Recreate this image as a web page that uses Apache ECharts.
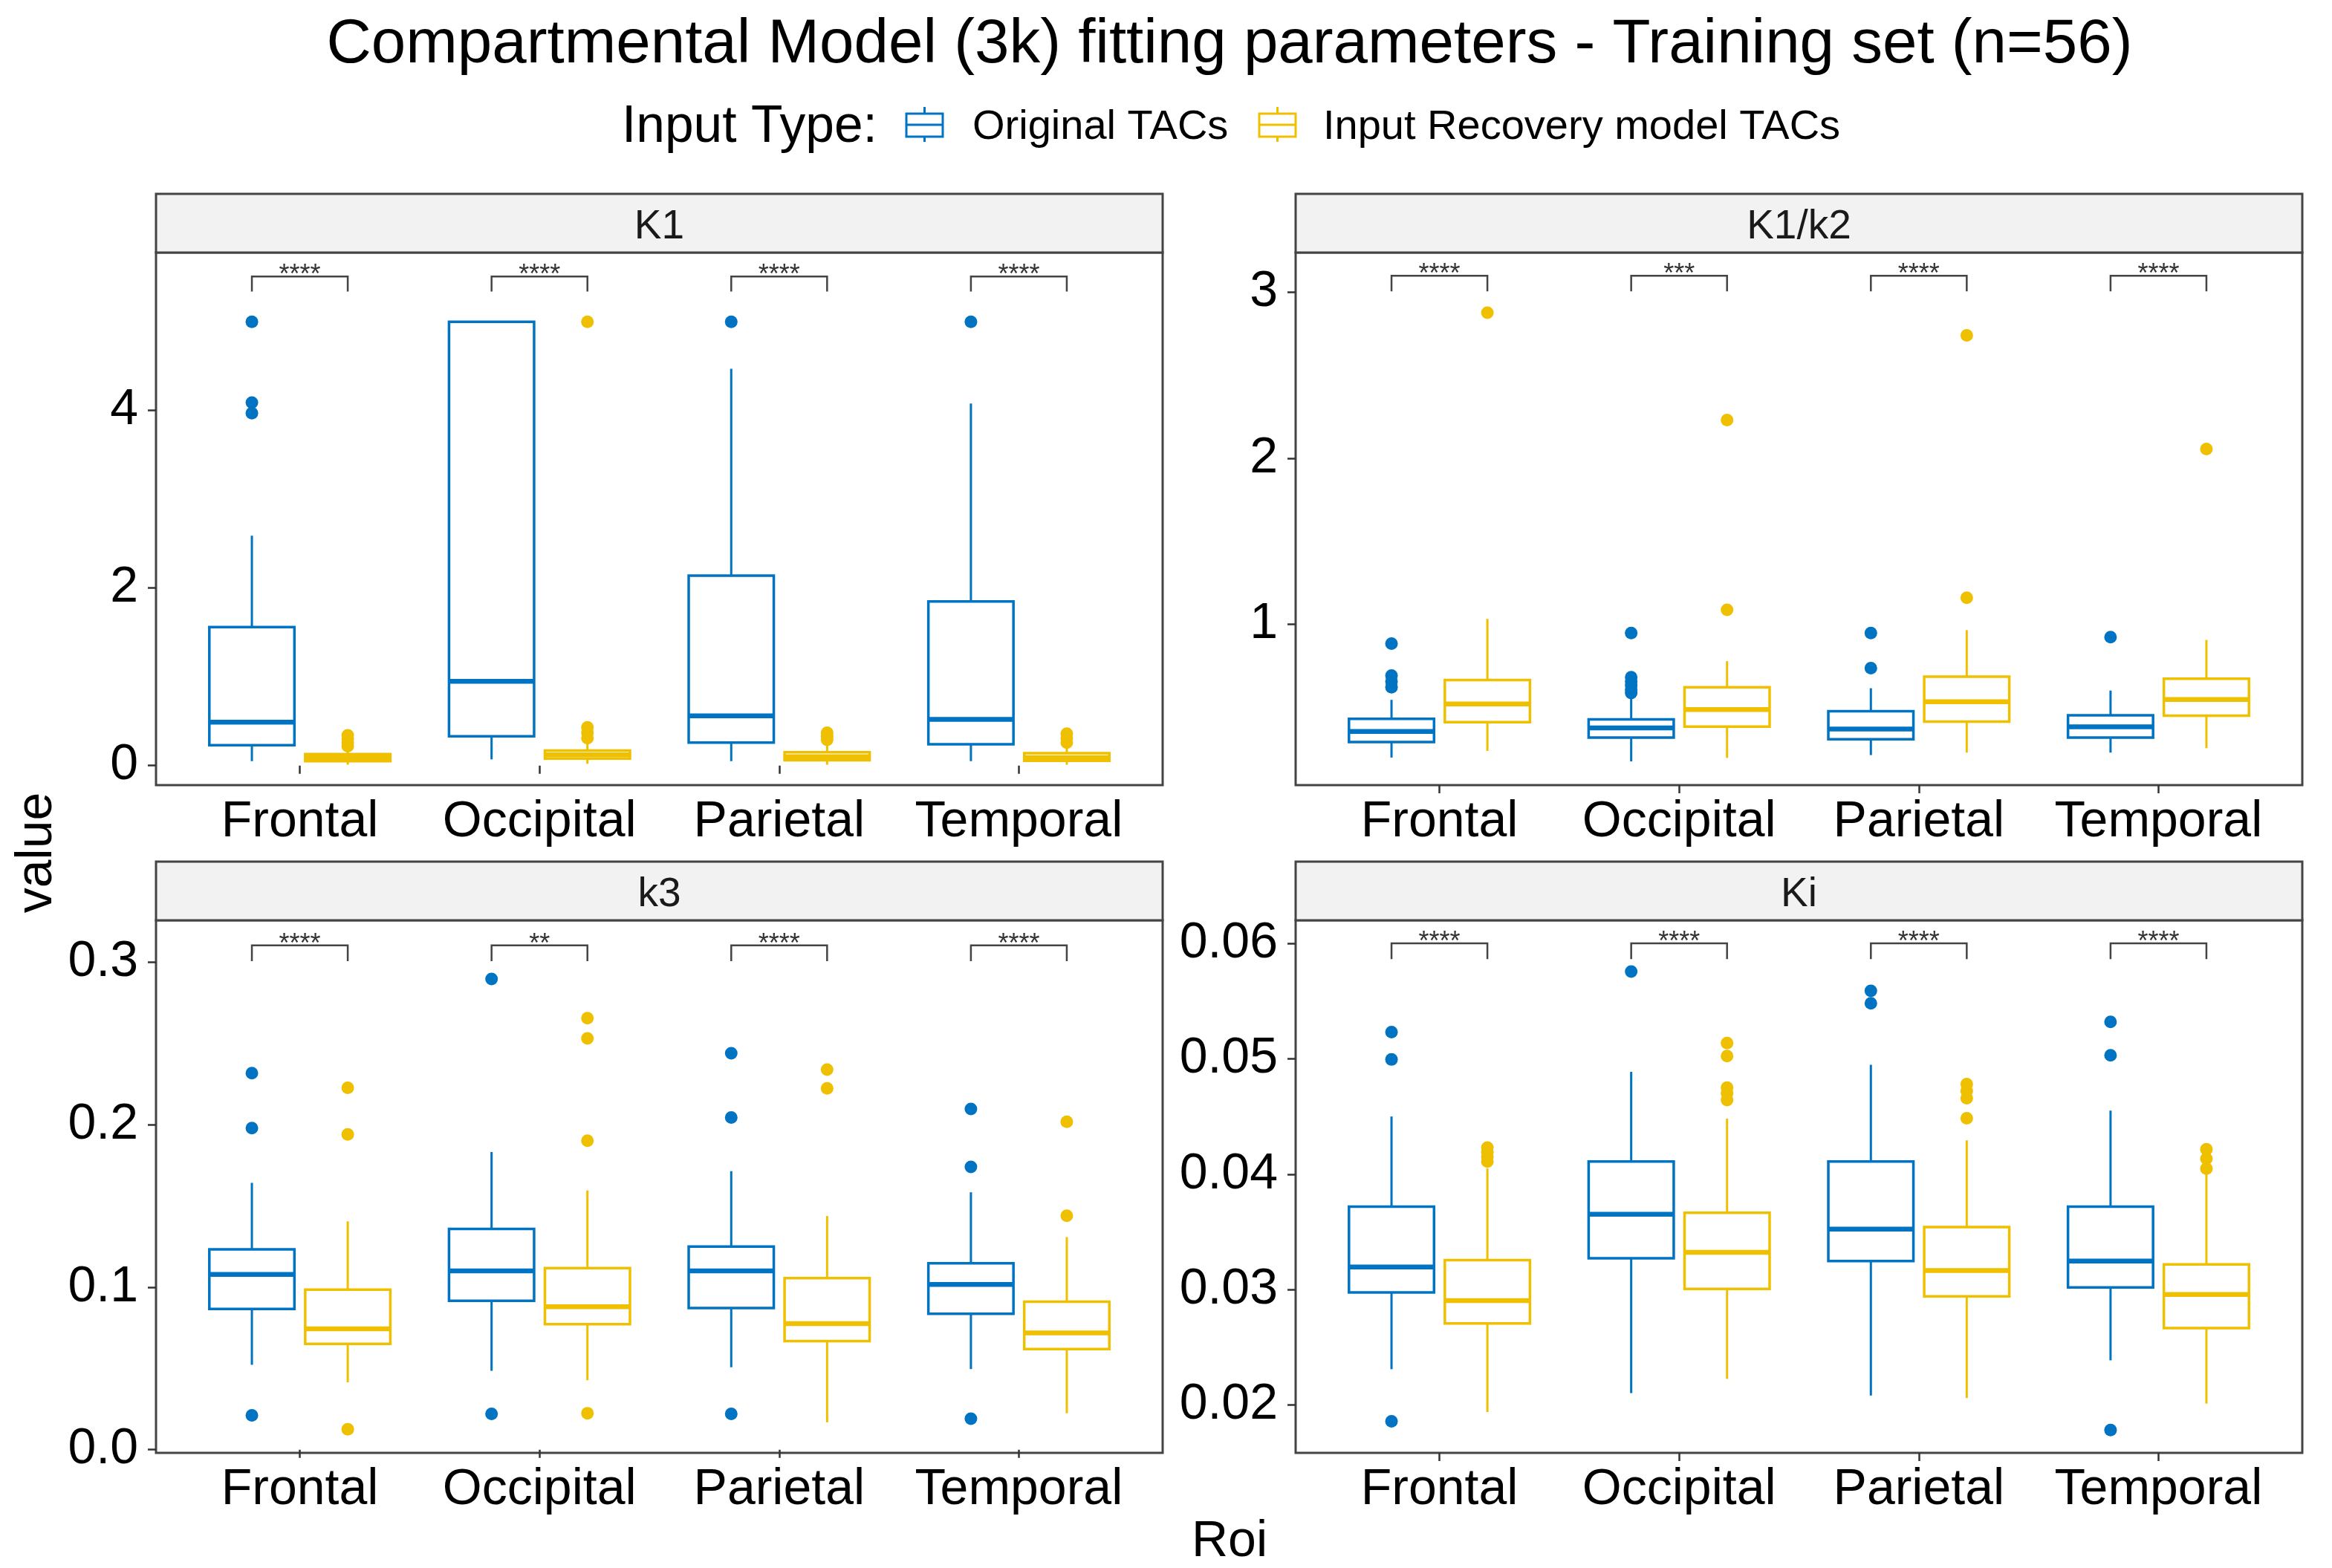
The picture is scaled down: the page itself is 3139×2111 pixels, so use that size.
<!DOCTYPE html>
<html>
<head>
<meta charset="utf-8">
<script src="https://cdn.jsdelivr.net/npm/echarts@6.0.0/dist/echarts.min.js"></script>
<style>
  html, body { margin: 0; padding: 0; background: #fff; }
  #chart { width: 3139px; height: 2111px; }
</style>
</head>
<body>
<div id="chart"></div>
<script>
const rois = ['Frontal', 'Occipital', 'Parietal', 'Temporal']
const inputTypes = ['Original TACs', 'Input Recovery model TACs']

// box stats per roi: [min, Q1, median, Q3, max]
const k1Original = [[0.05, 0.23, 0.49, 1.56, 2.59], [0.07, 0.33, 0.95, 5.0, 5.0], [0.05, 0.26, 0.56, 2.14, 4.47], [0.05, 0.24, 0.52, 1.85, 4.08]]
const k1Recovery = [[0.01, 0.05, 0.09, 0.13, 0.20], [0.02, 0.08, 0.12, 0.17, 0.25], [0.01, 0.06, 0.10, 0.15, 0.23], [0.01, 0.055, 0.09, 0.14, 0.21]]
const k1OriginalOutliers = [[5.0, 4.09, 3.97], [], [5.0], [5.0]]
const k1RecoveryOutliers = [[0.34, 0.30, 0.26, 0.22], [5.0, 0.43, 0.37, 0.31], [0.37, 0.33, 0.29], [0.36, 0.31, 0.26]]
const k1Signif = ['****', '****', '****', '****']
const k1Bracket = [5.34, 5.51]

const k1k2Original = [[0.196, 0.29, 0.353, 0.43, 0.544], [0.173, 0.317, 0.375, 0.426, 0.56], [0.211, 0.307, 0.368, 0.476, 0.614], [0.226, 0.317, 0.381, 0.451, 0.60]]
const k1k2Recovery = [[0.236, 0.409, 0.519, 0.663, 1.032], [0.194, 0.383, 0.485, 0.62, 0.777], [0.226, 0.413, 0.532, 0.684, 0.964], [0.253, 0.449, 0.546, 0.671, 0.905]]
const k1k2OriginalOutliers = [[0.883, 0.69, 0.655, 0.62], [0.947, 0.68, 0.655, 0.63, 0.605, 0.585], [0.947, 0.735], [0.922]]
const k1k2RecoveryOutliers = [[2.877], [2.23, 1.087], [2.741, 1.159], [2.056]]
const k1k2Signif = ['****', '***', '****', '****']
const k1k2Bracket = [3.006, 3.10]

const k3Original = [[0.0522, 0.0866, 0.1078, 0.1233, 0.1642], [0.0485, 0.0916, 0.110, 0.1358, 0.1832], [0.0507, 0.0871, 0.110, 0.125, 0.1714], [0.0496, 0.0836, 0.1017, 0.1147, 0.1584]]
const k3Recovery = [[0.0414, 0.0651, 0.0744, 0.0985, 0.1405], [0.0427, 0.0772, 0.088, 0.1117, 0.1595], [0.0168, 0.0668, 0.0776, 0.1056, 0.1438], [0.0224, 0.0619, 0.0718, 0.091, 0.1308]]
const k3OriginalOutliers = [[0.2317, 0.1979, 0.0211], [0.2897, 0.022], [0.244, 0.2044, 0.022], [0.2097, 0.174, 0.019]]
const k3RecoveryOutliers = [[0.2227, 0.194, 0.0125], [0.2656, 0.2531, 0.1901, 0.0224], [0.2339, 0.2224], [0.2018, 0.144]]
const k3Signif = ['****', '**', '****', '****']
const k3Bracket = [0.3007, 0.3104]

const kiOriginal = [[0.0231, 0.02976, 0.03195, 0.03719, 0.045], [0.02103, 0.03271, 0.03652, 0.0411, 0.04887], [0.02082, 0.03247, 0.03524, 0.0411, 0.04948], [0.02387, 0.03018, 0.03247, 0.03719, 0.04551]]
const kiRecovery = [[0.01939, 0.02707, 0.02905, 0.03256, 0.0405], [0.02226, 0.03006, 0.03323, 0.03665, 0.04481], [0.0206, 0.02942, 0.03165, 0.03542, 0.04293], [0.02012, 0.02667, 0.02957, 0.03219, 0.04033]]
const kiOriginalOutliers = [[0.05231, 0.04994, 0.01859], [0.05756], [0.05588, 0.05481], [0.0532, 0.0503, 0.01783]]
const kiRecoveryOutliers = [[0.04231, 0.0419, 0.0415, 0.0411], [0.05137, 0.05024, 0.0475, 0.047, 0.04643], [0.0478, 0.0472, 0.04658, 0.04485], [0.04216, 0.04134, 0.04048]]
const kiSignif = ['****', '****', '****', '****']
const kiBracket = [0.05863, 0.06]

// y tick labels
const k1Ticks = [0, 2, 4]
const k1k2Ticks = [1, 2, 3]
const k3Ticks = [0, 0.1, 0.2, 0.3]
const kiTicks = [0.02, 0.03, 0.04, 0.05, 0.06]

const FONT = 'Liberation Sans, Arial, Helvetica, sans-serif'
const COLORS = ['#0073C2', '#EFC000']
const DODGE = [-0.2, 0.2]
const BOX_WIDTH = 0.355
const PANEL_W = 1355
const PANEL_H = 717
const STRIP_H = 79

const panels = [
  { name: 'K1', boxes: [k1Original, k1Recovery], outliers: [k1OriginalOutliers, k1RecoveryOutliers], signif: k1Signif, bracket: k1Bracket, ticks: k1Ticks, digits: 0, min: -0.22, max: 5.78, left: 210, top: 340 },
  { name: 'K1/k2', boxes: [k1k2Original, k1k2Recovery], outliers: [k1k2OriginalOutliers, k1k2RecoveryOutliers], signif: k1k2Signif, bracket: k1k2Bracket, ticks: k1k2Ticks, digits: 0, min: 0.03, max: 3.24, left: 1744, top: 340 },
  { name: 'k3', boxes: [k3Original, k3Recovery], outliers: [k3OriginalOutliers, k3RecoveryOutliers], signif: k3Signif, bracket: k3Bracket, ticks: k3Ticks, digits: 1, min: -0.002, max: 0.3258, left: 210, top: 1239 },
  { name: 'Ki', boxes: [kiOriginal, kiRecovery], outliers: [kiOriginalOutliers, kiRecoveryOutliers], signif: kiSignif, bracket: kiBracket, ticks: kiTicks, digits: 2, min: 0.01585, max: 0.062, left: 1744, top: 1239 }
]

function renderBox(params, api) {
  const x = api.value(0)
  const half = api.size([BOX_WIDTH, 0])[0] / 2
  const pMin = api.coord([x, api.value(1)])
  const pQ1 = api.coord([x, api.value(2)])
  const pMed = api.coord([x, api.value(3)])
  const pQ3 = api.coord([x, api.value(4)])
  const pMax = api.coord([x, api.value(5)])
  const color = api.visual('color')
  return {
    type: 'group',
    children: [
      { type: 'line', shape: { x1: pMin[0], y1: pMin[1], x2: pQ1[0], y2: pQ1[1] }, style: { stroke: color, lineWidth: 3 } },
      { type: 'line', shape: { x1: pQ3[0], y1: pQ3[1], x2: pMax[0], y2: pMax[1] }, style: { stroke: color, lineWidth: 3 } },
      { type: 'rect', shape: { x: pQ1[0] - half, y: pQ3[1], width: half * 2, height: pQ1[1] - pQ3[1] }, style: { fill: '#fff', stroke: color, lineWidth: 3.5 } },
      { type: 'line', shape: { x1: pMed[0] - half, y1: pMed[1], x2: pMed[0] + half, y2: pMed[1] }, style: { stroke: color, lineWidth: 6.5 } }
    ]
  }
}

function bracketRenderer(labels) {
  return function (params, api) {
    const x = api.value(0)
    const a = api.coord([x + DODGE[0], api.value(1)])
    const b = api.coord([x + DODGE[0], api.value(2)])
    const c = api.coord([x + DODGE[1], api.value(2)])
    const d = api.coord([x + DODGE[1], api.value(1)])
    return {
      type: 'group',
      children: [
        { type: 'polyline', shape: { points: [a, b, c, d] }, style: { stroke: '#444', lineWidth: 2.5, fill: 'none' } },
        { type: 'text', style: { text: labels[params.dataIndex], x: (b[0] + c[0]) / 2, y: b[1] - 1, align: 'center', verticalAlign: 'middle', fontSize: 36, fontFamily: FONT, fill: '#333' } }
      ]
    }
  }
}

const grid = []
const xAxis = []
const yAxis = []
const series = []
const graphic = []

panels.forEach((p, i) => {
  grid.push({ left: p.left, top: p.top, width: PANEL_W, height: PANEL_H, show: true, borderColor: '#444', borderWidth: 3, backgroundColor: '#fff' })

  xAxis.push({
    type: 'value', gridIndex: i, min: 0.4, max: 4.6,
    axisLine: { show: false },
    splitLine: { show: false },
    axisTick: { show: true, customValues: [1, 2, 3, 4], length: 11, lineStyle: { color: '#333', width: 2.5 } },
    axisLabel: { customValues: [1, 2, 3, 4], formatter: v => rois[Math.round(v) - 1], margin: 16, fontSize: 68, color: '#000', fontFamily: FONT }
  })

  yAxis.push({
    type: 'value', gridIndex: i, min: p.min, max: p.max,
    axisLine: { show: false },
    splitLine: { show: false },
    axisTick: { show: true, customValues: p.ticks, length: 11, lineStyle: { color: '#333', width: 2.5 } },
    axisLabel: { customValues: p.ticks, formatter: v => v.toFixed(p.digits), margin: 24, padding: [16, 0, 0, 0], fontSize: 68, color: '#000', fontFamily: FONT }
  })

  p.boxes.forEach((stats, g) => {
    series.push({
      type: 'custom', name: inputTypes[g], xAxisIndex: i, yAxisIndex: i,
      itemStyle: { color: COLORS[g] },
      renderItem: renderBox,
      encode: { x: 0, y: [1, 2, 3, 4, 5] },
      data: stats.map((s, r) => [r + 1 + DODGE[g]].concat(s))
    })
    series.push({
      type: 'scatter', xAxisIndex: i, yAxisIndex: i, symbolSize: 17,
      itemStyle: { color: COLORS[g], opacity: 1 },
      data: p.outliers[g].flatMap((vals, r) => vals.map(v => [r + 1 + DODGE[g], v]))
    })
  })

  series.push({
    type: 'custom', xAxisIndex: i, yAxisIndex: i,
    renderItem: bracketRenderer(p.signif),
    encode: { x: 0, y: [1, 2] },
    data: rois.map((_, r) => [r + 1, p.bracket[0], p.bracket[1]])
  })

  graphic.push({ type: 'rect', shape: { x: p.left, y: p.top - STRIP_H, width: PANEL_W, height: STRIP_H }, style: { fill: '#F2F2F2', stroke: '#444', lineWidth: 3 } })
  graphic.push({ type: 'text', x: p.left + PANEL_W / 2, y: p.top - STRIP_H / 2 + 5, style: { text: p.name, align: 'center', verticalAlign: 'middle', fontSize: 55, fontFamily: FONT, fill: '#1a1a1a' } })
})

// title, axis titles
graphic.push({ type: 'text', x: 1655, y: 61, style: { text: 'Compartmental Model (3k) fitting parameters - Training set (n=56)', align: 'center', verticalAlign: 'middle', fontSize: 83.5, fontFamily: FONT, fill: '#000' } })
graphic.push({ type: 'text', x: 1655, y: 2076, style: { text: 'Roi', align: 'center', verticalAlign: 'middle', fontSize: 68, fontFamily: FONT, fill: '#000' } })
graphic.push({ type: 'text', x: 50, y: 1148, rotation: Math.PI / 2, style: { text: 'value', align: 'center', verticalAlign: 'middle', fontSize: 68, fontFamily: FONT, fill: '#000' } })

// legend
const LEGEND_Y = 168
graphic.push({ type: 'text', x: 837, y: LEGEND_Y + 4, style: { text: 'Input Type:', align: 'left', verticalAlign: 'middle', fontSize: 69.5, fontFamily: FONT, fill: '#000' } })
const legendKeys = [1220, 1695]
const legendTexts = [1309, 1781]
inputTypes.forEach((name, g) => {
  const kx = legendKeys[g]
  const cx = kx + 24.5
  graphic.push({ type: 'line', shape: { x1: cx, y1: LEGEND_Y - 24, x2: cx, y2: LEGEND_Y + 23 }, style: { stroke: COLORS[g], lineWidth: 3 } })
  graphic.push({ type: 'rect', shape: { x: kx, y: LEGEND_Y - 15, width: 49, height: 31 }, style: { fill: '#fff', stroke: COLORS[g], lineWidth: 3 } })
  graphic.push({ type: 'line', shape: { x1: kx, y1: LEGEND_Y, x2: kx + 49, y2: LEGEND_Y }, style: { stroke: COLORS[g], lineWidth: 3 } })
  graphic.push({ type: 'text', x: legendTexts[g], y: LEGEND_Y + 4, style: { text: name, align: 'left', verticalAlign: 'middle', fontSize: 56, fontFamily: FONT, fill: '#000' } })
})

const chart = echarts.init(document.getElementById('chart'))
chart.setOption({
  animation: false,
  backgroundColor: '#fff',
  grid: grid,
  xAxis: xAxis,
  yAxis: yAxis,
  series: series,
  graphic: graphic
})
</script>
</body>
</html>
